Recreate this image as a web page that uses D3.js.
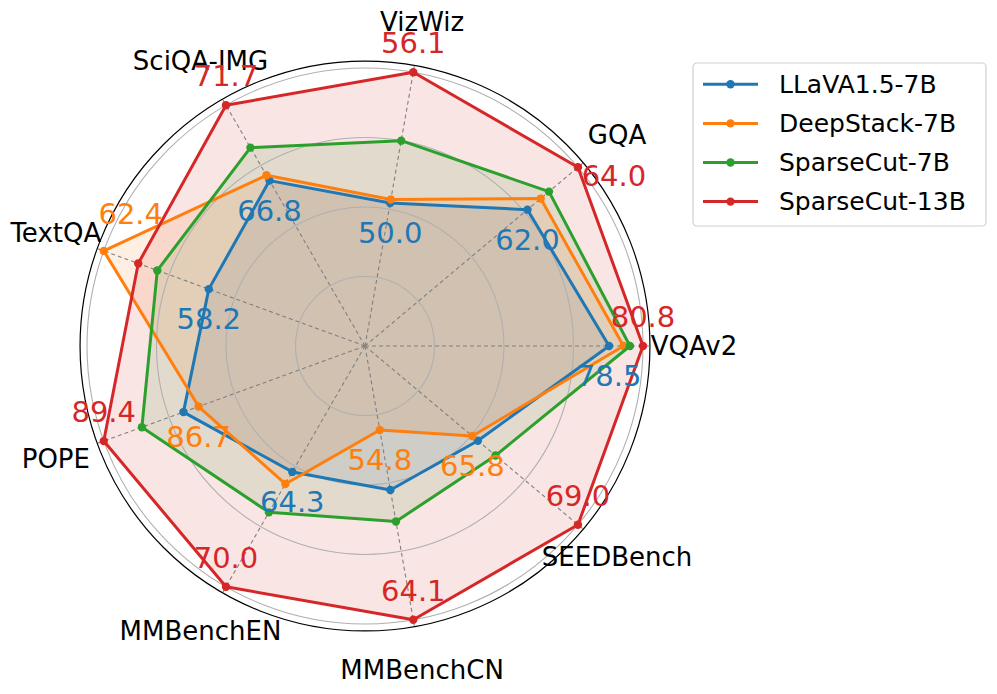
<!DOCTYPE html>
<html>
<head>
<meta charset="utf-8">
<script src="https://cdn.jsdelivr.net/npm/d3@7"></script>
<style>
  body { margin: 0; background: #fff; }
  svg { display: block; font-family: "DejaVu Sans", sans-serif; }
</style>
</head>
<body>
<svg id="chart" width="997" height="694"></svg>
<script>
// --- Data ------------------------------------------------------------------
const categories = ["VQAv2", "GQA", "VizWiz", "SciQA-IMG", "TextQA", "POPE", "MMBenchEN", "MMBenchCN", "SEEDBench"];
const seriesNames = ["LLaVA1.5-7B", "DeepStack-7B", "SparseCut-7B", "SparseCut-13B"];
// normalised per-axis scores (1 = best on that benchmark)
const llava     = [0.878, 0.763, 0.522, 0.687, 0.598, 0.695, 0.523, 0.526, 0.530];
const deepstack = [0.930, 0.825, 0.535, 0.709, 1.000, 0.637, 0.573, 0.307, 0.504];
const sparse7   = [0.953, 0.864, 0.750, 0.824, 0.795, 0.854, 0.691, 0.641, 0.613];
const sparse13  = [1.000, 1.000, 1.000, 1.000, 0.868, 1.000, 1.000, 1.000, 1.000];
// lowest / highest raw score on each axis and which series it belongs to
const minLabels = ["78.5", "62.0", "50.0", "66.8", "58.2", "86.7", "64.3", "54.8", "65.8"];
const minOwner  = [0, 0, 0, 0, 0, 1, 0, 1, 1];
const maxLabels = ["80.8", "64.0", "56.1", "71.7", "62.4", "89.4", "70.0", "64.1", "69.0"];
const maxOwner  = [3, 3, 3, 3, 1, 3, 3, 3, 3];

const series = [llava, deepstack, sparse7, sparse13];
const colors = ["#1f77b4", "#ff7f0e", "#2ca02c", "#d62728"];

// --- Layout ----------------------------------------------------------------
const svg = d3.select("#chart");
const cx = 365, cy = 346;
const r = d3.scaleLinear().domain([0, 1]).range([0, 278]);
const angle = d3.scaleLinear().domain([0, categories.length]).range([0, 2 * Math.PI]);
const px = (i, v) => cx + r(v) * Math.cos(angle(i));
const py = (i, v) => cy - r(v) * Math.sin(angle(i));

// label nudges that were moved by hand in the original
const maxNudge = { 1: [36, 9], 4: [27, -37] };

const line = d3.line()
  .x(d => px(d.i, d.v))
  .y(d => py(d.i, d.v))
  .curve(d3.curveLinearClosed);
const pointsOf = vals => vals.map((v, i) => ({ i, v }));

// fills sit under everything (like matplotlib patches)
svg.append("g").selectAll("path")
  .data(series).enter().append("path")
  .attr("d", d => line(pointsOf(d)))
  .attr("fill", (d, s) => colors[s])
  .attr("fill-opacity", 0.12);

// grid rings
svg.append("g").selectAll("circle")
  .data([0.25, 0.5, 0.75, 1])
  .enter().append("circle")
  .attr("cx", cx).attr("cy", cy)
  .attr("r", d => r(d))
  .attr("fill", "none")
  .attr("stroke", "#b0b0b0")
  .attr("stroke-width", 1.1);

// spokes
svg.append("g").selectAll("line")
  .data(categories)
  .enter().append("line")
  .attr("x1", cx).attr("y1", cy)
  .attr("x2", (d, i) => px(i, 1.025)).attr("y2", (d, i) => py(i, 1.025))
  .attr("stroke", "#808080")
  .attr("stroke-width", 1.1)
  .attr("stroke-dasharray", "4,3");

// outer spine
svg.append("circle")
  .attr("cx", cx).attr("cy", cy)
  .attr("r", r(1.025))
  .attr("fill", "none")
  .attr("stroke", "#000")
  .attr("stroke-width", 1.2);

// series lines + markers
series.forEach((vals, s) => {
  const pts = pointsOf(vals);
  const g = svg.append("g");
  g.append("path")
    .attr("d", line(pts))
    .attr("fill", "none")
    .attr("stroke", colors[s])
    .attr("stroke-width", 3)
    .attr("stroke-linejoin", "round");
  g.selectAll("circle")
    .data(pts).enter().append("circle")
    .attr("cx", d => px(d.i, d.v)).attr("cy", d => py(d.i, d.v))
    .attr("r", 4.2)
    .attr("fill", colors[s]);
});

// axis labels
svg.append("g").selectAll("text")
  .data(categories)
  .enter().append("text")
  .attr("x", (d, i) => cx + 329 * Math.cos(angle(i)))
  .attr("y", (d, i) => cy - 329 * Math.sin(angle(i)))
  .attr("text-anchor", "middle")
  .attr("dominant-baseline", "central")
  .attr("font-size", 26)
  .attr("fill", "#000")
  .text(d => d);

// min / max value labels
const vlab = svg.append("g").attr("font-size", 29).attr("text-anchor", "middle").attr("dominant-baseline", "central");
categories.forEach((c, i) => {
  const lo = minOwner[i], hi = maxOwner[i];
  vlab.append("text")
    .attr("x", px(i, series[lo][i]))
    .attr("y", py(i, series[lo][i]) + 30)
    .attr("fill", colors[lo])
    .text(minLabels[i]);
  const nd = maxNudge[i] || [0, -29];
  vlab.append("text")
    .attr("x", px(i, series[hi][i]) + nd[0])
    .attr("y", py(i, series[hi][i]) + nd[1])
    .attr("fill", colors[hi])
    .text(maxLabels[i]);
});

// legend
const legend = svg.append("g").attr("transform", "translate(693,63)");
legend.append("rect")
  .attr("width", 293).attr("height", 163)
  .attr("rx", 4)
  .attr("fill", "#fff")
  .attr("stroke", "#d0d0d0")
  .attr("stroke-width", 1.2);
const row = legend.selectAll("g.row")
  .data(seriesNames).enter().append("g")
  .attr("class", "row")
  .attr("transform", (d, i) => `translate(0,${21.3 + i * 39.1})`);
row.append("line")
  .attr("x1", 10).attr("x2", 65)
  .attr("stroke", (d, i) => colors[i])
  .attr("stroke-width", 3);
row.append("circle")
  .attr("cx", 37.5).attr("r", 4.2)
  .attr("fill", (d, i) => colors[i]);
row.append("text")
  .attr("x", 86)
  .attr("dominant-baseline", "central")
  .attr("font-size", 25)
  .text(d => d);
</script>
</body>
</html>
